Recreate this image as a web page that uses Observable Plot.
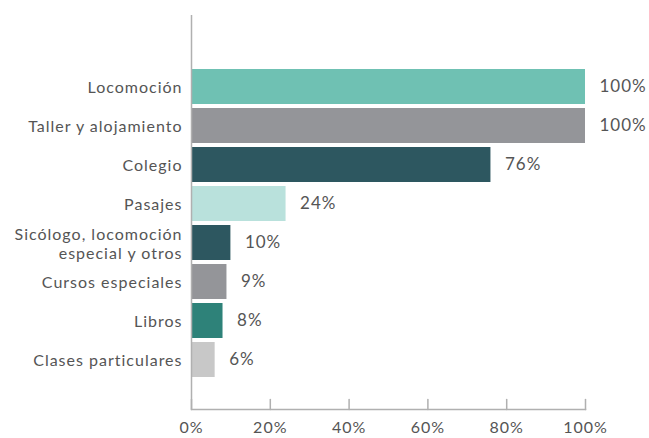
<!DOCTYPE html>
<html>
<head>
<meta charset="utf-8">
<script src="https://cdn.jsdelivr.net/npm/d3@7"></script>
<script src="https://cdn.jsdelivr.net/npm/@observablehq/plot@0.6"></script>
<style>
  html, body { margin: 0; padding: 0; background: #fff; }
  #chart svg { font-family: Lato, "Open Sans", sans-serif; letter-spacing: 1px; }
</style>
</head>
<body>
<div id="chart"></div>
<script>
const categories = [
  "Locomoción",
  "Taller y alojamiento",
  "Colegio",
  "Pasajes",
  "Sicólogo, locomoción\nespecial y otros",
  "Cursos especiales",
  "Libros",
  "Clases particulares"
];
const values = [100, 100, 76, 24, 10, 9, 8, 6];
const colors = ["#6fc1b3", "#949599", "#2d5760", "#b9e1dc", "#2d5760", "#949599", "#2e8279", "#c8c8c8"];
const xTicks = [0, 20, 40, 60, 80, 100];

const data = categories.map((c, i) => ({category: c, value: values[i], color: colors[i]}));

const tickShape = {
  draw(context, l) { context.moveTo(0, 0); context.lineTo(0, -l); }
};

const chart = Plot.plot({
  width: 649,
  height: 438,
  marginLeft: 191,
  marginRight: 64,
  marginTop: 15,
  marginBottom: 29,
  style: {fontFamily: "Lato, 'Open Sans', sans-serif", background: "#fff"},
  x: {domain: [0, 100], axis: null},
  y: {domain: categories, range: [67, 379], paddingInner: 0.09, paddingOuter: 0, axis: null},
  marks: [
    Plot.barX(data, {y: "category", x: "value", fill: "color"}),
    Plot.ruleX([0], {stroke: "#b0b0b0", strokeWidth: 1.5}),
    Plot.frame({anchor: "bottom", stroke: "#b0b0b0", strokeWidth: 1.5}),
    Plot.vector(xTicks, {x: d => d, frameAnchor: "bottom", length: 10, rotate: 0, anchor: "start", shape: tickShape, stroke: "#b0b0b0", strokeWidth: 1.5}),
    Plot.axisX({ticks: xTicks, tickSize: 0, tickFormat: d => d + "%", tickPadding: 12, fontSize: 16, fill: "#555", anchor: "bottom", label: null}),
    Plot.axisY({tickSize: 0, tickPadding: 9, fontSize: 16, fill: "#555", lineHeight: 1.2, anchor: "left", label: null}),
    Plot.text(data, {y: "category", x: "value", text: d => d.value + "%", textAnchor: "start", dx: 14, fontSize: 17, fill: "#555"})
  ]
});
document.getElementById("chart").appendChild(chart);
</script>
</body>
</html>
